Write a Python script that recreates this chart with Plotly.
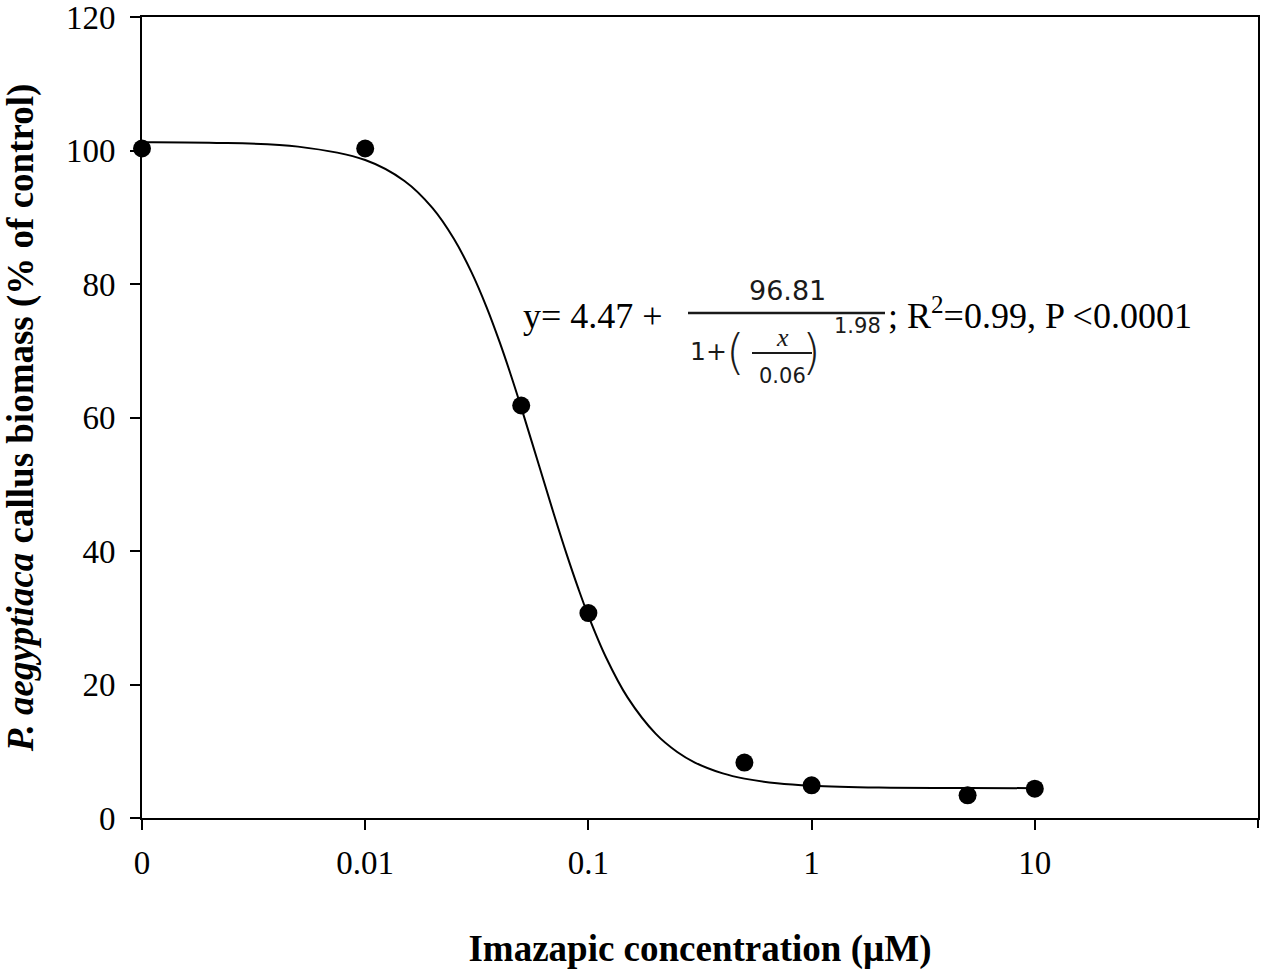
import plotly.graph_objects as go

# measured points (x=0.001 is plotted at the "0" tick)
conc = [0.001, 0.01, 0.05, 0.1, 0.5, 1, 5, 10]
biomass = [100.3, 100.3, 61.8, 30.7, 8.3, 4.9, 3.4, 4.4]

# fitted curve
fit_x = [0.001, 0.002, 0.005, 0.01, 0.015, 0.02, 0.025, 0.03, 0.035, 0.04,
         0.045, 0.05, 0.06, 0.07, 0.08, 0.09, 0.1, 0.12, 0.15, 0.2,
         0.25, 0.3, 0.4, 0.5, 0.7, 1, 2, 5, 10]
fit_y = [101.25, 101.17, 100.58, 98.57, 95.43, 91.40, 86.74, 81.70, 76.50, 71.32,
         66.30, 61.52, 52.88, 45.54, 39.45, 34.43, 30.29, 24.05, 18.03, 12.64,
         9.89, 8.31, 6.68, 5.90, 5.21, 4.84, 4.56, 4.49, 4.47]

x_ticks = [0.001, 0.01, 0.1, 1, 10]
x_labels = ["0", "0.01", "0.1", "1", "10"]
y_ticks = [0, 20, 40, 60, 80, 100, 120]

SERIF = "Liberation Serif"
SANS = "DejaVu Sans"
INK = "#1a1a1a"

# plot area in pixels: left 142, right 1258, top 17, bottom 818
def px(x):
    return (x - 142) / 1116

def py(y):
    return (818 - y) / 801


fig = go.Figure()

fig.add_trace(go.Scatter(
    x=fit_x, y=fit_y,
    mode="lines",
    line=dict(color="black", width=2, shape="spline"),
    hoverinfo="skip",
    showlegend=False,
))

fig.add_trace(go.Scatter(
    x=conc, y=biomass,
    mode="markers",
    marker=dict(color="black", size=18),
    cliponaxis=False,
    showlegend=False,
))

# equation text
notes = [
    dict(x=px(521), y=py(316), text="y= 4.47 +", xanchor="left",
         font=dict(family=SERIF, size=36, color="black")),
    dict(x=px(886), y=py(313), text="; R<sup>2</sup>=0.99, P <0.0001", xanchor="left",
         font=dict(family=SERIF, size=36, color="black")),
    dict(x=px(787), y=py(291), text="96.81", xanchor="center",
         font=dict(family=SANS, size=27, color=INK)),
    dict(x=px(708), y=py(351), text="1+", xanchor="center",
         font=dict(family=SANS, size=25, color=INK)),
    dict(x=px(735), y=py(352), text="(", xanchor="center",
         font=dict(family=SANS, size=48, weight=300, color=INK)),
    dict(x=px(811), y=py(352), text=")", xanchor="center",
         font=dict(family=SANS, size=48, weight=300, color=INK)),
    dict(x=px(782), y=py(337), text="<i>x</i>", xanchor="center",
         font=dict(family=SERIF, size=26, color=INK)),
    dict(x=px(782), y=py(376), text="0.06", xanchor="center",
         font=dict(family=SANS, size=21, color=INK)),
    dict(x=px(858), y=py(326), text="1.98", xanchor="center",
         font=dict(family=SANS, size=21, color=INK)),
]
for n in notes:
    fig.add_annotation(xref="paper", yref="paper", yanchor="middle",
                       showarrow=False, **n)

# fraction bars
fig.add_shape(type="line", xref="paper", yref="paper",
              x0=px(688), x1=px(885), y0=py(313), y1=py(313),
              line=dict(color=INK, width=2.5))
fig.add_shape(type="line", xref="paper", yref="paper",
              x0=px(752), x1=px(812), y0=py(353), y1=py(353),
              line=dict(color=INK, width=2))
# tick mark at the right end of the x axis
fig.add_shape(type="line", xref="paper", yref="paper",
              x0=1, x1=1, y0=0, y1=py(828),
              line=dict(color="black", width=2))

fig.update_layout(
    width=1267, height=979,
    margin=dict(l=142, r=9, t=17, b=161),
    plot_bgcolor="white",
    paper_bgcolor="white",
    font=dict(family=SERIF, size=33, color="black"),
)

fig.update_xaxes(
    type="log",
    range=[-3, 2],
    tickvals=x_ticks,
    ticktext=x_labels,
    ticks="outside", ticklen=10, tickwidth=2, tickcolor="black",
    showline=True, linecolor="black", linewidth=2, mirror=True,
    showgrid=False, zeroline=False,
    tickfont=dict(family=SERIF, size=33),
    ticklabelstandoff=4,
    automargin=False,
    title=dict(text="<b>Imazapic concentration (µM)</b>",
               font=dict(family=SERIF, size=37), standoff=56),
)

fig.update_yaxes(
    range=[0, 120],
    tickvals=y_ticks,
    ticks="outside", ticklen=10, tickwidth=2, tickcolor="black",
    showline=True, linecolor="black", linewidth=2, mirror=True,
    showgrid=False, zeroline=False,
    tickfont=dict(family=SERIF, size=33),
    ticklabelstandoff=8,
    ticklabeloverflow="allow",
    automargin=False,
    title=dict(text="<b><i>P. aegyptiaca</i> callus biomass (% of control)</b>",
               font=dict(family=SERIF, size=37), standoff=30),
)

# drop the default 8px page margin so the figure fills the window
fig.write_html("out.html", config={"displayModeBar": False},
               post_script="document.body.style.margin = '0px';")
